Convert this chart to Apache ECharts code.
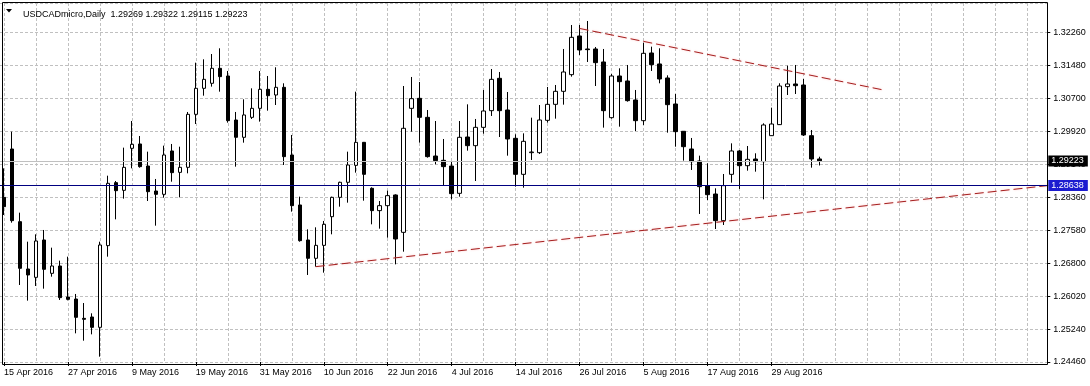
<!DOCTYPE html>
<html><head><meta charset="utf-8">
<style>html,body{margin:0;padding:0;background:#fff}#c{width:1090px;height:386px}</style>
<script src="https://cdn.jsdelivr.net/npm/echarts@6/dist/echarts.min.js"></script>
</head><body><div id="c"></div>
<script>
const symbolName = 'USDCADmicro';
const timeframe = 'Daily';
const dates = [
'15 Apr 2016','18 Apr 2016','19 Apr 2016','20 Apr 2016','21 Apr 2016','22 Apr 2016','25 Apr 2016','26 Apr 2016','27 Apr 2016','28 Apr 2016','29 Apr 2016',
'2 May 2016','3 May 2016','4 May 2016','5 May 2016','6 May 2016','9 May 2016','10 May 2016','11 May 2016','12 May 2016','13 May 2016','16 May 2016','17 May 2016','18 May 2016','19 May 2016','20 May 2016','23 May 2016','24 May 2016','25 May 2016','26 May 2016','27 May 2016','30 May 2016','31 May 2016',
'1 Jun 2016','2 Jun 2016','3 Jun 2016','6 Jun 2016','7 Jun 2016','8 Jun 2016','9 Jun 2016','10 Jun 2016','13 Jun 2016','14 Jun 2016','15 Jun 2016','16 Jun 2016','17 Jun 2016','20 Jun 2016','21 Jun 2016','22 Jun 2016','23 Jun 2016','24 Jun 2016','27 Jun 2016','28 Jun 2016','29 Jun 2016','30 Jun 2016',
'1 Jul 2016','4 Jul 2016','5 Jul 2016','6 Jul 2016','7 Jul 2016','8 Jul 2016','11 Jul 2016','12 Jul 2016','13 Jul 2016','14 Jul 2016','15 Jul 2016','18 Jul 2016','19 Jul 2016','20 Jul 2016','21 Jul 2016','22 Jul 2016','25 Jul 2016','26 Jul 2016','27 Jul 2016','28 Jul 2016','29 Jul 2016',
'1 Aug 2016','2 Aug 2016','3 Aug 2016','4 Aug 2016','5 Aug 2016','8 Aug 2016','9 Aug 2016','10 Aug 2016','11 Aug 2016','12 Aug 2016','15 Aug 2016','16 Aug 2016','17 Aug 2016','18 Aug 2016','19 Aug 2016','22 Aug 2016','23 Aug 2016','24 Aug 2016','25 Aug 2016','26 Aug 2016','29 Aug 2016','30 Aug 2016','31 Aug 2016',
'1 Sep 2016','2 Sep 2016','5 Sep 2016','6 Sep 2016'];
const open = [1.28360,1.29505,1.27784,1.26663,1.26465,1.27350,1.26560,1.26734,1.26000,1.25952,1.25494,1.25526,1.25281,1.27216,1.28708,1.28526,1.29521,1.29624,1.29102,1.28510,
1.28431,1.29458,1.28952,1.29071,1.30326,1.30942,1.31061,1.31416,1.31234,1.30192,1.29782,1.30255,1.30468,1.30918,1.30784,1.30966,1.29363,1.28179,1.27350,1.26916,
1.27223,1.27902,1.28360,1.28716,1.29118,1.29663,1.28574,1.28045,1.28163,1.28416,1.27531,1.30468,1.30705,1.30255,1.29339,1.29237,1.29102,1.28455,1.29789,1.29584,
1.30018,1.30413,1.31179,1.30429,1.29758,1.28905,1.29418,1.29418,1.30184,1.30563,1.30871,1.31266,1.32182,1.31874,1.31874,1.31566,1.30247,1.31234,1.31116,1.30666,
1.30176,1.31779,1.31519,1.31187,1.30571,1.29924,1.29505,1.29221,1.28637,1.28439,1.27808,1.28905,1.29458,1.29110,1.29268,1.29205,1.29821,1.30082,1.30982,1.31045,
1.31021,1.29821,1.29269];
const high = [1.29047,1.29916,1.27997,1.27310,1.27484,1.27587,1.27168,1.26860,1.26955,1.26071,1.25857,1.25613,1.27310,1.28873,1.28747,1.29537,1.30168,1.29813,1.29442,1.28795,
1.29584,1.29624,1.29560,1.30382,1.31550,1.31629,1.31755,1.31890,1.31353,1.30382,1.30682,1.30942,1.31353,1.31234,1.31440,1.31061,1.29837,1.28376,1.27602,1.27650,
1.27800,1.28376,1.28731,1.29442,1.30863,1.29671,1.28597,1.28273,1.28518,1.28431,1.30997,1.31211,1.31092,1.30429,1.30168,1.29742,1.29213,1.30168,1.30563,1.30216,
1.30903,1.31400,1.31329,1.30855,1.29853,1.29876,1.30247,1.30547,1.30974,1.31021,1.31874,1.32442,1.32442,1.32537,1.31921,1.31874,1.31282,1.31416,1.31495,1.30903,
1.32024,1.31929,1.31890,1.31250,1.30808,1.29930,1.29766,1.29347,1.29166,1.28574,1.28913,1.29639,1.29481,1.29576,1.29403,1.30113,1.30484,1.31061,1.31479,1.31495,
1.31163,1.29955,1.29322];
const low = [1.27942,1.27760,1.26284,1.25913,1.26260,1.26197,1.26481,1.25929,1.25920,1.25139,1.24965,1.25115,1.24586,1.26955,1.27839,1.28329,1.29047,1.29063,1.28273,1.27689,
1.28352,1.28731,1.28360,1.28929,1.30097,1.30768,1.30982,1.30863,1.30129,1.29087,1.29655,1.30216,1.30153,1.30413,1.30547,1.29126,1.28021,1.27310,1.26521,1.26718,
1.26576,1.27484,1.28139,1.28234,1.28945,1.28281,1.27721,1.27618,1.27405,1.26773,1.27073,1.29916,1.29655,1.29300,1.29142,1.28652,1.28313,1.28376,1.29466,1.28747,
1.29868,1.30287,1.29789,1.29347,1.28613,1.28589,1.29245,1.29387,1.30129,1.30224,1.30555,1.31219,1.31732,1.31566,1.30997,1.30011,1.30224,1.30034,1.30626,1.29931,
1.30074,1.31353,1.31061,1.29892,1.29560,1.29229,1.29008,1.27966,1.28297,1.27610,1.27705,1.28708,1.28558,1.28992,1.28968,1.28313,1.29815,1.30075,1.30784,1.30808,
1.29813,1.29063,1.29115];
const close = [1.28139,1.27808,1.26679,1.26521,1.27326,1.26655,1.26734,1.25984,1.25944,1.25518,1.25471,1.25281,1.27231,1.28692,1.28518,1.29071,1.29616,1.29087,1.28494,1.28431,
1.29363,1.28945,1.29071,1.30326,1.30942,1.31155,1.31416,1.31219,1.30176,1.29782,1.30311,1.30468,1.30918,1.30768,1.30966,1.29324,1.28163,1.27334,1.26916,1.27223,
1.27721,1.28360,1.28716,1.29126,1.29663,1.28905,1.28045,1.28163,1.28400,1.27373,1.29995,1.30697,1.30255,1.29324,1.29229,1.29087,1.28447,1.29782,1.29584,1.30018,
1.30405,1.31155,1.30413,1.29742,1.28905,1.29687,1.29434,1.30192,1.30563,1.30871,1.31329,1.32150,1.31850,1.31858,1.31550,1.30413,1.31234,1.31100,1.30650,1.30176,
1.31771,1.31503,1.31163,1.30555,1.29916,1.29560,1.29205,1.28613,1.28423,1.27808,1.28637,1.29458,1.29110,1.29260,1.29205,1.30074,1.30097,1.30997,1.31045,1.31005,
1.29837,1.29268,1.29223];
const yTickBase = 1.24460;
const yTickStep = 0.0078;
const yTop = 1.32963;
const bidPrice = 1.29223;
const levelPrice = 1.28638;
const resistanceX = [72, 110];
const resistanceY = [1.32360, 1.30903];
const supportX = [39, 131];
const supportY = [1.26718, 1.28648];
const totalSlots = 131;

const cats = dates.concat(new Array(totalSlots - dates.length).fill(''));
const sh = v => +(v - yTickBase).toFixed(6);
const candleData = open.map((o, i) => [sh(o), sh(close[i]), sh(low[i]), sh(high[i])]);
const last = dates.length - 1;
const fmt = v => v.toFixed(5);
const FONT = '"Liberation Sans", Arial, sans-serif';
const gridGray = '#c0c0c0';
const trendStyle = {color: '#a41e1e', width: 1, type: [9, 4], shadowColor: 'rgba(255,110,110,0.45)', shadowBlur: 2};

const chart = echarts.init(document.getElementById('c'), null, {renderer: 'canvas'});
chart.setOption({
  animation: false,
  textStyle: {fontFamily: FONT},
  title: {
    text: symbolName + ',' + timeframe + '  ' + fmt(open[last]) + ' ' + fmt(high[last]) + ' ' + fmt(low[last]) + ' ' + fmt(close[last]),
    left: 18, top: 5,
    textStyle: {fontSize: 9, fontWeight: 'normal', color: '#000', fontFamily: FONT}
  },
  grid: {left: -0.7, top: 3, width: 1048, height: 359, show: false},
  xAxis: {
    type: 'category', data: cats, boundaryGap: true, offset: 2.5,
    axisLine: {show: false},
    axisTick: {show: true, alignWithLabel: true, length: 4, lineStyle: {color: '#000'},
      interval: (i, v) => i % 8 === 0 && v !== ''},
    axisLabel: {interval: (i, v) => i % 8 === 0 && v !== '', align: 'left', margin: 4,
      fontSize: 9, color: '#000', fontFamily: FONT},
    splitLine: {show: true, alignWithLabel: true, interval: (i) => i % 4 === 0,
      lineStyle: {color: gridGray, type: [3, 2], width: 1}}
  },
  yAxis: {
    type: 'value', position: 'right', min: 0, max: sh(yTop), interval: yTickStep, scale: false,
    axisLine: {show: false},
    axisTick: {show: true, length: 3, lineStyle: {color: '#000'}},
    axisLabel: {formatter: v => fmt(yTickBase + v), fontSize: 9, color: '#000', margin: 6,
      showMaxLabel: false, fontFamily: FONT},
    splitLine: {show: true, lineStyle: {color: gridGray, type: [3, 2], width: 1}}
  },
  series: [
    {
      type: 'candlestick', data: candleData, barWidth: 4, clip: true,
      itemStyle: {color: '#fff', color0: '#000', borderColor: '#000', borderColor0: '#000', borderWidth: 1},
      markLine: {
        silent: true, symbol: 'none', animation: false, precision: 6,
        data: [
          {yAxis: sh(bidPrice), lineStyle: {color: '#c0c0c0', type: 'solid', width: 1},
            label: {show: true, position: 'end', distance: 1, formatter: fmt(bidPrice), color: '#fff',
              backgroundColor: '#000', padding: [1, 4, 0, 3], fontSize: 9, lineHeight: 10, fontFamily: FONT}},
          {yAxis: sh(levelPrice), lineStyle: {color: '#000080', type: 'solid', width: 1},
            label: {show: true, position: 'end', distance: 1, formatter: fmt(levelPrice), color: '#fff',
              backgroundColor: '#1c1cd0', padding: [1, 4, 0, 3], fontSize: 9, lineHeight: 10, fontFamily: FONT}}
        ]
      }
    },
    {
      type: 'line', data: resistanceX.map((x, i) => [x, sh(resistanceY[i])]), symbol: 'none', silent: true,
      lineStyle: trendStyle
    },
    {
      type: 'line', data: supportX.map((x, i) => [x, sh(supportY[i])]), symbol: 'none', silent: true,
      lineStyle: trendStyle
    }
  ],
  graphic: [
    {type: 'rect', shape: {x: 2.5, y: 2.5, width: 1045, height: 362}, style: {fill: 'none', stroke: '#000', lineWidth: 1}, z: 100, silent: true},
    {type: 'polygon', shape: {points: [[6, 9], [12, 9], [9, 12.5]]}, style: {fill: '#000'}, z: 100, silent: true}
  ]
});
</script></body></html>
